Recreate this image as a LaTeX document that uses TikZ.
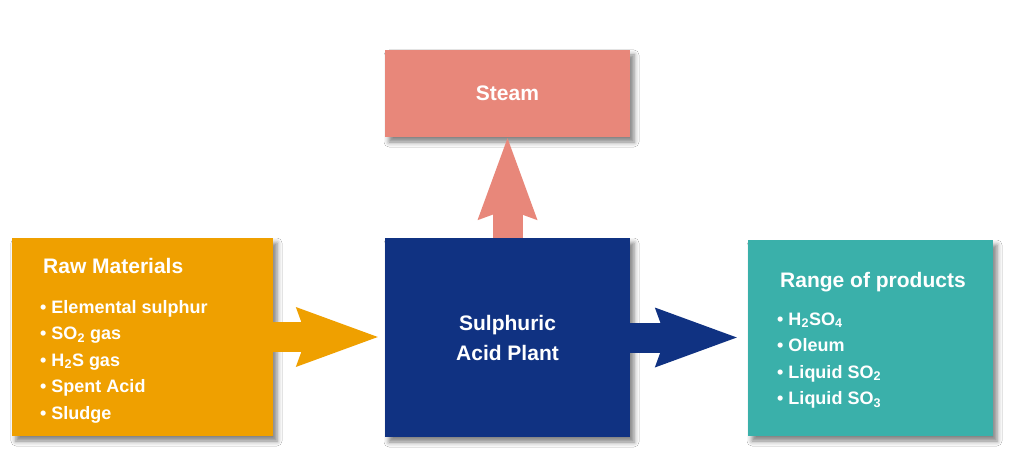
\documentclass[tikz,border=0pt]{standalone}
\usepackage{fontspec}
\setmainfont{Liberation Sans}
\usetikzlibrary{arrows.meta,shadows.blur}
\definecolor{rawFill}{RGB}{239,160,0}
\definecolor{plantFill}{RGB}{16,50,130}
\definecolor{steamFill}{RGB}{232,135,122}
\definecolor{prodFill}{RGB}{58,176,170}

\begin{document}
\begin{tikzpicture}[x=1pt,y=-1pt,
  box/.style  ={minimum width=245pt,inner sep=0pt,text=white,align=center,font=\fontsize{21}{30}\selectfont\bfseries,
                blur shadow={shadow xshift=4pt,shadow yshift=-5pt,shadow blur radius=5pt,shadow opacity=50}},
  head/.style ={anchor=base west,inner sep=0pt,text=white,font=\fontsize{21}{25}\selectfont\bfseries},
  items/.style={anchor=base west,inner sep=0pt,text=white,align=left,font=\fontsize{18}{26.5}\selectfont\bfseries},
  fat/.style  ={line width=30pt,-{Stealth[length=82pt,width=60pt,inset=11pt,line width=0pt]}}]
\useasboundingbox[fill=white] (0,0) rectangle (1024,470);

\node[box,fill=rawFill,minimum width=261pt,minimum height=198pt] (raw) at (142.5,337) {};
\node[box,fill=plantFill,minimum height=199pt] (plant) at (507.5,337.5) {Sulphuric\\Acid Plant};
\node[box,fill=prodFill,minimum height=196pt] (prod) at (870.5,338) {};
\node[box,fill=steamFill,minimum height=87pt] (steam) at (507.5,93.5) {Steam};

% lists are placed by the baseline of their last line
\node[head]  (rawhead)  at (43,273)    {Raw Materials};
\node[items] (rawlist)  at (40,419)    {• Elemental sulphur\\ • SO\textsubscript{2} gas\\ • H\textsubscript{2}S gas\\ • Spent Acid\\ • Sludge};
\node[head]  (prodhead) at (780,287)   {Range of products};
\node[items] (prodlist) at (777,404.5) {• H\textsubscript{2}SO\textsubscript{4}\\ • Oleum\\ • Liquid SO\textsubscript{2}\\ • Liquid SO\textsubscript{3}};

\draw[fat,rawFill,shorten >=7pt]    (raw.east) -- (raw.east -| plant.west);
\draw[fat,plantFill,shorten >=11pt] (plant.east) -- (plant.east -| prod.west);
\draw[fat,steamFill,shorten >=1pt]  (plant.north) -- (steam.south);
\end{tikzpicture}
\end{document}
